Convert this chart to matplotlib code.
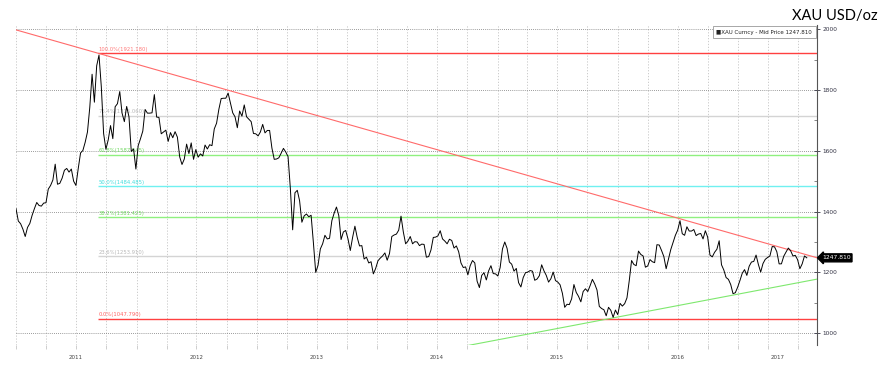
import numpy as np
import pandas as pd
import matplotlib
matplotlib.use("Agg")
import matplotlib.pyplot as plt
import matplotlib.dates as mdates
import matplotlib.transforms as mtransforms

# ---------------- data (weekly XAU mid price) ----------------
prices_2010 = [1410.0]
prices_2011 = [1369, 1360, 1342, 1318, 1348, 1361, 1388, 1410, 1430, 1420, 1418, 1428,
               1429, 1474, 1486, 1504, 1556, 1490, 1493, 1510, 1536, 1542, 1530, 1540,
               1500, 1486, 1542, 1593, 1601, 1628, 1662, 1743, 1852, 1760, 1880, 1915,
               1811, 1657, 1605, 1636, 1683, 1640, 1745, 1755, 1795, 1724, 1696, 1746,
               1712, 1598, 1606, 1540]
prices_2012 = [1617, 1640, 1665, 1736, 1724, 1724, 1725, 1785, 1711, 1710, 1656, 1662,
               1668, 1631, 1660, 1643, 1663, 1645, 1580, 1555, 1573, 1622, 1591, 1626,
               1572, 1604, 1579, 1590, 1583, 1619, 1606, 1620, 1617, 1672, 1691, 1737,
               1772, 1773, 1773, 1790, 1758, 1725, 1712, 1676, 1731, 1714, 1751, 1712,
               1704, 1696, 1657, 1656]
prices_2013 = [1649, 1662, 1687, 1659, 1667, 1667, 1609, 1572, 1573, 1577, 1592, 1608,
               1596, 1581, 1476, 1340, 1462, 1470, 1436, 1365, 1386, 1392, 1383, 1388,
               1297, 1200, 1223, 1277, 1294, 1322, 1310, 1312, 1370, 1395, 1415, 1387,
               1308, 1333, 1338, 1310, 1272, 1315, 1352, 1315, 1287, 1288, 1244, 1250,
               1231, 1235, 1195, 1213]
prices_2014 = [1238, 1247, 1254, 1264, 1240, 1262, 1318, 1323, 1326, 1339, 1385, 1333,
               1294, 1303, 1318, 1294, 1301, 1300, 1288, 1293, 1292, 1250, 1252, 1274,
               1315, 1316, 1320, 1337, 1310, 1303, 1294, 1309, 1305, 1280, 1287, 1268,
               1231, 1216, 1218, 1192, 1222, 1239, 1231, 1171, 1150, 1190, 1199, 1175,
               1205, 1222, 1196, 1195]
prices_2015 = [1188, 1216, 1277, 1300, 1279, 1234, 1227, 1204, 1213, 1166, 1152, 1183,
               1199, 1201, 1206, 1204, 1174, 1178, 1189, 1225, 1205, 1190, 1168, 1179,
               1201, 1173, 1168, 1159, 1131, 1085, 1095, 1094, 1113, 1160, 1134, 1121,
               1103, 1137, 1146, 1137, 1156, 1177, 1162, 1142, 1088, 1081, 1077, 1057,
               1085, 1075, 1052, 1076]
prices_2016 = [1061, 1098, 1089, 1097, 1116, 1173, 1239, 1226, 1222, 1270, 1259, 1254,
               1217, 1221, 1242, 1235, 1232, 1291, 1290, 1272, 1252, 1212, 1243, 1275,
               1298, 1322, 1339, 1370, 1327, 1322, 1350, 1336, 1336, 1341, 1321, 1326,
               1328, 1310, 1337, 1316, 1257, 1251, 1266, 1276, 1304, 1225, 1208, 1183,
               1177, 1160, 1130, 1133, 1151]
prices_2017 = [1173, 1197, 1209, 1190, 1220, 1234, 1236, 1257, 1226, 1201, 1229, 1243,
               1249, 1254, 1285, 1284, 1268, 1228, 1228, 1253, 1267, 1280, 1271, 1254,
               1256, 1242, 1212, 1228, 1254, 1247.81]
last_price = 1247.81
series_name = "XAU Curncy - Mid Price"

# Fibonacci retracement (swing high / swing low)
fib_high = 1921.18
fib_low = 1047.79
fib_start_date = "2011-09-06"
fib_levels = [100.0, 76.4, 61.8, 50.0, 38.2, 23.6, 0.0]
fib_line_colors = ["#ff4040", "#d4d4d4", "#8ff07f", "#70f0f0", "#8ff07f", "#d4d4d4", "#ff4040"]
fib_text_colors = ["#ff7a7a", "#b8b8b8", "#6fd860", "#40dede", "#6fd860", "#b8b8b8", "#ff6060"]

# trend lines (anchor points)
red_trend_dates = ["2011-09-06", "2016-07-06"]
red_trend_values = [1921.18, 1377.0]
green_trend_dates = ["2015-12-17", "2016-12-15"]
green_trend_values = [1050.0, 1125.0]

year_labels = ["2011", "2012", "2013", "2014", "2015", "2016", "2017"]
year_label_dates = ["2011-07-01", "2012-07-01", "2013-07-01", "2014-07-01",
                    "2015-07-01", "2016-07-01", "2017-05-01"]
y_ticks = [1000, 1200, 1400, 1600, 1800, 2000]

# ---------------- figure ----------------
prices = np.concatenate([prices_2010, prices_2011, prices_2012, prices_2013,
                         prices_2014, prices_2015, prices_2016, prices_2017]).astype(float)
dates = pd.date_range("2010-12-31", periods=len(prices), freq="W-FRI")

W, H = 883, 376
fig = plt.figure(figsize=(W / 100, H / 100), dpi=100)
L, R, T, B = 16, 817, 25, 345
ax = fig.add_axes([L / W, 1 - B / H, (R - L) / W, (B - T) / H])

xmin = pd.Timestamp("2010-12-31")
xmax = pd.Timestamp("2017-08-28")
ax.set_xlim(xmin, xmax)
ax.set_ylim(961, 2014)

# grid
ax.set_yticks(y_ticks)
ax.set_yticks(np.arange(1100, 2000, 200), minor=True)
ax.xaxis.set_major_locator(mdates.MonthLocator(bymonth=[1, 4, 7, 10]))
ax.xaxis.set_major_formatter(plt.NullFormatter())
ax.grid(axis="y", which="major", color="#7a7a7a", ls=(0, (1, 1.5)), lw=0.6)
ax.grid(axis="x", which="major", color="#c4c4c4", ls=(0, (1.5, 2)), lw=0.6)
ax.set_axisbelow(True)

# Fibonacci lines
x_fib0 = pd.Timestamp(fib_start_date)
for lev, lc, tc in zip(fib_levels, fib_line_colors, fib_text_colors):
    v = fib_low + (fib_high - fib_low) * lev / 100.0
    ax.hlines(v, x_fib0, xmax, colors=lc, lw=1.0, zorder=2)
    ax.annotate(f"{lev:.1f}%({v:.3f})", xy=(x_fib0, v), xytext=(0.5, 1.0),
                textcoords="offset points", fontsize=3.8, color=tc,
                ha="left", va="bottom", zorder=3)

# trend lines, extended over the whole axis
def trend(dates_, vals_, col):
    xn = mdates.date2num(pd.to_datetime(dates_))
    slope = (vals_[1] - vals_[0]) / (xn[1] - xn[0])
    xs = np.array([mdates.date2num(xmin), mdates.date2num(xmax)])
    ys = vals_[0] + slope * (xs - xn[0])
    ax.plot(mdates.num2date(xs), ys, color=col, lw=0.8, zorder=4)

trend(red_trend_dates, red_trend_values, "#ff6a6a")
trend(green_trend_dates, green_trend_values, "#7ee86e")

# price line
ax.plot(dates, prices, color="black", lw=0.7, zorder=5)

# axes styling
for s in ["left", "top", "bottom"]:
    ax.spines[s].set_visible(False)
ax.spines["right"].set_color("#555555")
ax.spines["right"].set_linewidth(0.8)
ax.yaxis.tick_right()
ax.tick_params(axis="y", which="major", direction="inout", length=4, width=0.6,
               labelsize=4.2, colors="#333344", pad=2)
ax.tick_params(axis="y", which="minor", direction="in", length=2, width=0.5, colors="#555555")
ax.tick_params(axis="x", which="major", direction="out", length=3, width=0.5, colors="#bbbbbb")

# year labels centred in each year
trans = mtransforms.blended_transform_factory(ax.transData, ax.transAxes)
for lab, d in zip(year_labels, year_label_dates):
    ax.text(pd.Timestamp(d), -0.04, lab, transform=trans, ha="center", va="center",
            fontsize=4, color="#444444")

# last price tag
ax.annotate(f"{last_price:.3f}", xy=(1.0, last_price), xycoords=("axes fraction", "data"),
            xytext=(3.5, 0), textcoords="offset points", ha="left", va="center",
            fontsize=4.3, color="white",
            bbox=dict(boxstyle="larrow,pad=0.25", fc="black", ec="black"),
            annotation_clip=False, zorder=10)

# legend box
ax.text(0.994, 0.985, "\u25A0" + series_name + f" {last_price:.3f}",
        transform=ax.transAxes, ha="right", va="top", fontsize=4, color="#222222",
        bbox=dict(boxstyle="square,pad=0.6", fc="white", ec="#999999", lw=0.6), zorder=10)

# title at top right
fig.text(878 / W, 1 - 16 / H, "XAU USD/oz", ha="right", va="center",
         fontsize=10.5, family=["Lato", "DejaVu Sans"], color="black")

fig.savefig("out.png", dpi=100)
